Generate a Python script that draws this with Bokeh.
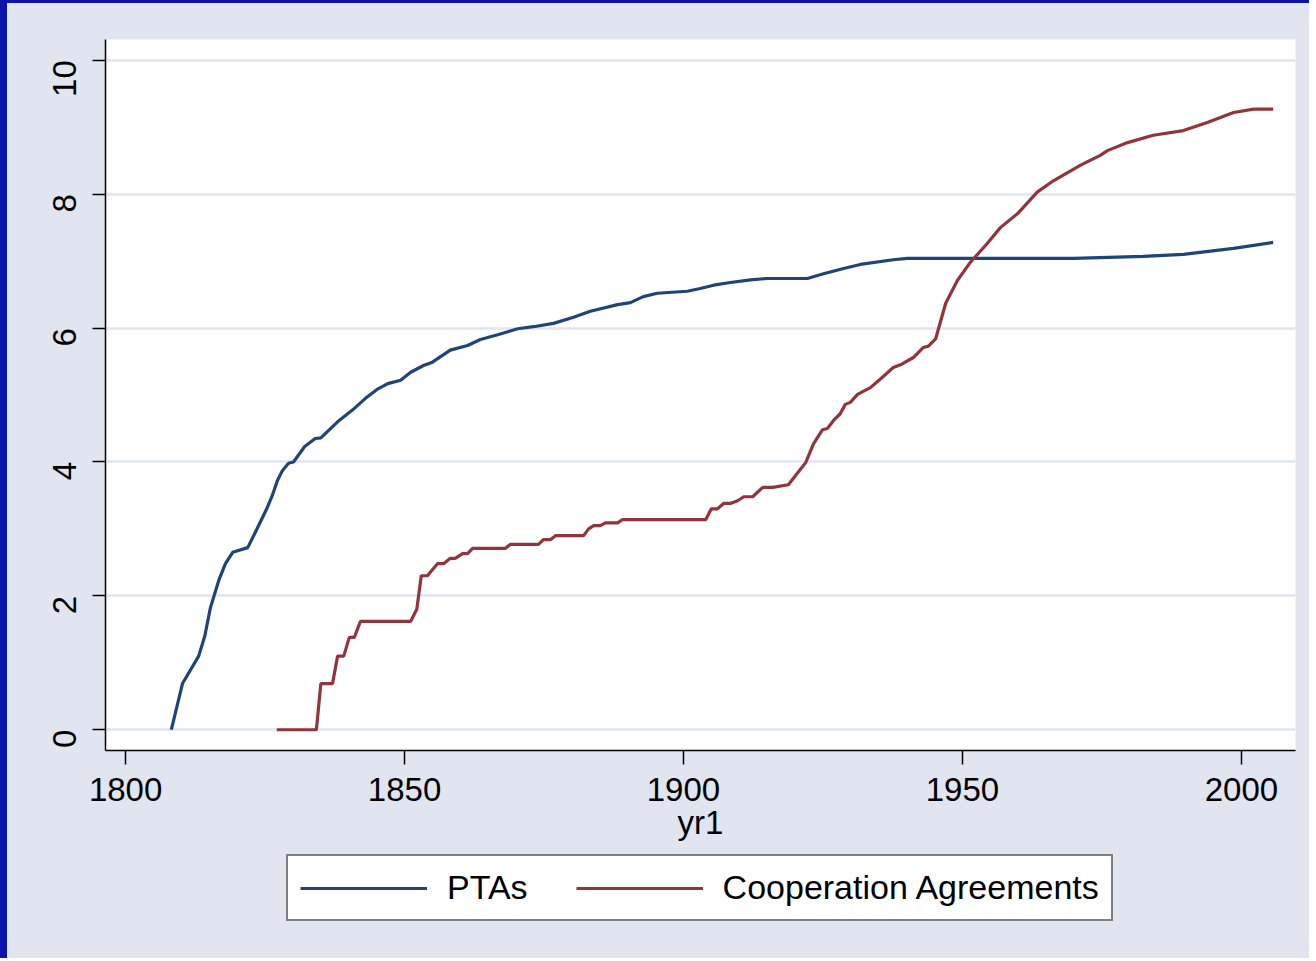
import math
from bokeh.plotting import figure
from bokeh.layouts import column
from bokeh.models import FixedTicker, Legend, LegendItem, Range1d, InlineStyleSheet
from bokeh.embed import file_html
from bokeh.resources import INLINE

pta_years = [1808.2, 1810.2, 1813.1, 1814.2, 1815.2, 1816.7, 1817.9, 1819.2, 1821.9, 1823.5,
             1825.3, 1826.3, 1827.2, 1828.1, 1829.2, 1830.1, 1832.1, 1834.0, 1835.0, 1838.0,
             1841.0, 1843.0, 1845.0, 1847.0, 1849.3, 1851.1, 1853.4, 1855.0, 1858.2, 1861.3,
             1863.6, 1866.7, 1870.3, 1873.1, 1876.7, 1880.3, 1883.3, 1888.2, 1890.5, 1892.8,
             1895.3, 1900.7, 1903.0, 1905.4, 1908.4, 1912.0, 1915.0, 1922.2, 1925.1, 1928.7,
             1931.7, 1937.6, 1940.1, 1969.9, 1982.4, 1989.6, 1998.6, 2005.7]
pta_values = [0, 0.69, 1.1, 1.4, 1.82, 2.23, 2.48, 2.65, 2.72, 2.99,
              3.3, 3.5, 3.72, 3.87, 3.98, 4.0, 4.23, 4.35, 4.36, 4.6,
              4.8, 4.95, 5.08, 5.17, 5.22, 5.34, 5.44, 5.49, 5.67, 5.74,
              5.83, 5.9, 5.99, 6.02, 6.07, 6.16, 6.25, 6.35, 6.38, 6.47,
              6.52, 6.55, 6.59, 6.64, 6.68, 6.72, 6.74, 6.74, 6.81, 6.89,
              6.95, 7.02, 7.04, 7.04, 7.07, 7.1, 7.19, 7.28]

coop_years = [1827.1, 1834.2, 1835.0, 1837.1, 1838.0, 1839.1, 1840.1, 1841.0, 1842.1, 1851.1,
              1852.2, 1853.0, 1854.1, 1855.9, 1857.0, 1858.2, 1859.1, 1860.4, 1861.3, 1862.2,
              1868.1, 1869.0, 1874.0, 1874.9, 1876.2, 1877.1, 1882.1, 1883.0, 1883.9, 1885.1,
              1886.0, 1888.2, 1889.1, 1904.0, 1905.0, 1906.1, 1907.2, 1908.4, 1909.7, 1910.8,
              1912.4, 1914.2, 1916.0, 1918.8, 1920.4, 1921.9, 1923.3, 1924.9, 1925.8, 1926.9,
              1928.1, 1929.0, 1929.9, 1931.2, 1933.5, 1935.3, 1937.6, 1938.9, 1941.2, 1943.0,
              1943.9, 1945.2, 1947.0, 1949.1, 1951.4, 1954.4, 1956.8, 1959.9, 1963.4, 1966.3,
              1971.1, 1974.7, 1976.0, 1979.6, 1984.2, 1989.6, 1993.9, 1998.6, 2002.2, 2005.7]
coop_values = [0, 0, 0.69, 0.69, 1.1, 1.1, 1.38, 1.38, 1.62, 1.62,
               1.8, 2.3, 2.3, 2.48, 2.48, 2.56, 2.56, 2.63, 2.63, 2.71,
               2.71, 2.77, 2.77, 2.84, 2.84, 2.9, 2.9, 3.0, 3.05, 3.05,
               3.09, 3.09, 3.14, 3.14, 3.3, 3.3, 3.38, 3.38, 3.42, 3.48,
               3.48, 3.62, 3.62, 3.66, 3.83, 3.99, 4.27, 4.48, 4.5, 4.62,
               4.72, 4.86, 4.89, 5.01, 5.11, 5.24, 5.41, 5.45, 5.56, 5.71,
               5.73, 5.84, 6.37, 6.71, 6.98, 7.26, 7.5, 7.71, 8.03, 8.2,
               8.43, 8.58, 8.65, 8.77, 8.88, 8.95, 9.07, 9.22, 9.27, 9.27]

x_ticks = [1800, 1850, 1900, 1950, 2000]
y_ticks = [0, 2, 4, 6, 8, 10]
x_label = "yr1"
series_names = ["PTAs", "Cooperation Agreements"]
series_colors = ["#1f4478", "#93343c"]

BG = "#e0e5f0"
FONT = "Liberation Sans"
FS = "33px"
EDGE = "#0a14ac"
LW = 3.2

# main chart (blue edge of the reference drawn as CSS borders)
p_main = figure(width=1309, height=852, output_backend="svg", toolbar_location=None,
                x_range=Range1d(1796.4, 2009.7), y_range=Range1d(-0.31, 10.31),
                min_border_left=98, min_border_right=21, min_border_top=36, min_border_bottom=105)
p_main.stylesheets = [InlineStyleSheet(css=f":host {{ border-left: 7px solid {EDGE}; border-top: 3px solid {EDGE}; background: {BG}; }}")]

p_main.background_fill_color = "white"
p_main.border_fill_color = BG
p_main.outline_line_color = None

for ax in (p_main.xaxis[0], p_main.yaxis[0]):
    ax.axis_line_color = "black"
    ax.axis_line_width = 1.5
    ax.major_tick_line_color = "black"
    ax.major_tick_line_width = 1.5
    ax.major_tick_in = 0
    ax.minor_tick_line_color = None
    ax.major_label_text_font = FONT
    ax.major_label_text_font_size = FS
    ax.major_label_text_color = "black"

p_main.xaxis[0].ticker = FixedTicker(ticks=x_ticks)
p_main.xaxis[0].major_tick_out = 14
p_main.xaxis[0].major_label_standoff = 13
p_main.xaxis[0].axis_label = x_label
p_main.xaxis[0].axis_label_text_font = FONT
p_main.xaxis[0].axis_label_text_font_size = FS
p_main.xaxis[0].axis_label_text_font_style = "normal"
p_main.xaxis[0].axis_label_text_color = "black"
p_main.xaxis[0].axis_label_standoff = 0

p_main.yaxis[0].ticker = FixedTicker(ticks=y_ticks)
p_main.yaxis[0].major_tick_out = 13
p_main.yaxis[0].major_label_standoff = 28
p_main.yaxis[0].major_label_orientation = math.pi / 2

p_main.xgrid.grid_line_color = None
p_main.ygrid.ticker = FixedTicker(ticks=y_ticks)
p_main.ygrid.grid_line_color = BG
p_main.ygrid.grid_line_width = 2.5

p_main.line(pta_years, pta_values, line_color=series_colors[0], line_width=LW)
p_main.line(coop_years, coop_values, line_color=series_colors[1], line_width=LW)

# legend strip below the chart (its own lines lie outside its 0..1 ranges)
p_leg = figure(width=1309, height=106, output_backend="svg", toolbar_location=None,
               x_range=Range1d(0, 1), y_range=Range1d(0, 1),
               x_axis_location=None, y_axis_location=None,
               min_border_left=0, min_border_right=0, min_border_top=0, min_border_bottom=0)
p_leg.stylesheets = [InlineStyleSheet(css=f":host {{ border-left: 7px solid {EDGE}; background: {BG}; }}")]
p_leg.background_fill_color = None
p_leg.border_fill_color = BG
p_leg.outline_line_color = None
p_leg.xgrid.grid_line_color = None
p_leg.ygrid.grid_line_color = None

lr1 = p_leg.line(pta_years, pta_values, line_color=series_colors[0], line_width=LW)
lr2 = p_leg.line(coop_years, coop_values, line_color=series_colors[1], line_width=LW)

legend = Legend(items=[LegendItem(label=series_names[0], renderers=[lr1]),
                       LegendItem(label=series_names[1], renderers=[lr2])],
                orientation="horizontal", location=(181, 37),
                glyph_width=127, glyph_height=30, label_standoff=20, spacing=48,
                padding=12, margin=0,
                label_text_font=FONT, label_text_font_size="34px", label_text_color="black",
                border_line_color="black", border_line_width=2,
                background_fill_color="white", background_fill_alpha=1.0)
p_leg.add_layout(legend, "center")

p = column(p_main, p_leg, spacing=0)
p.stylesheets = [InlineStyleSheet(css=f":host {{ background: {BG}; }}")]

open("out.html", "w").write(file_html(p, INLINE))
